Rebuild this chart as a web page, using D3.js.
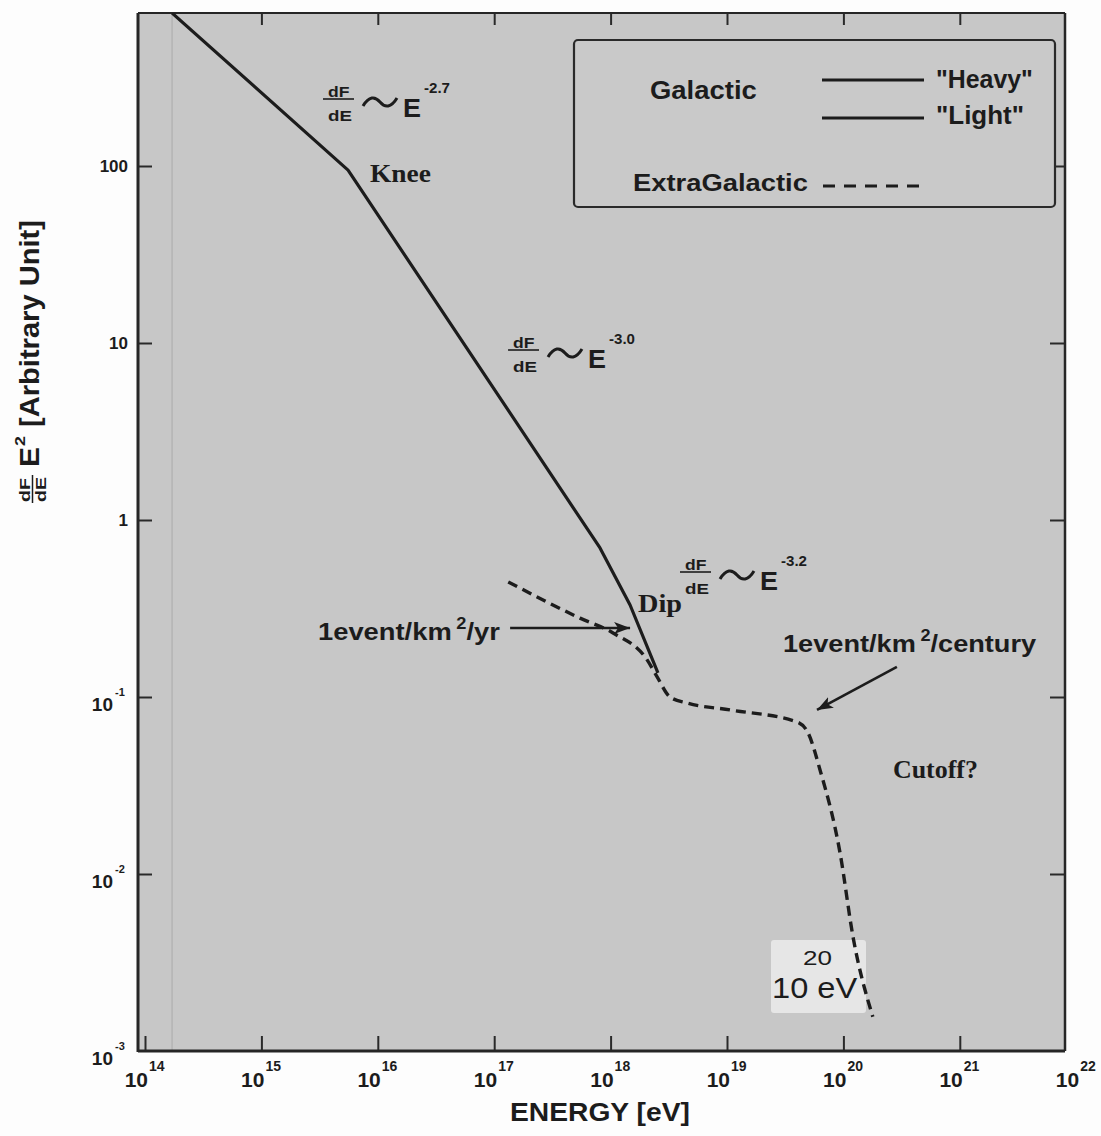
<!DOCTYPE html>
<html>
<head>
<meta charset="utf-8">
<script src="https://cdn.jsdelivr.net/npm/d3@7"></script>
<style>
  body { margin: 0; background: #fff; }
  text { font-family: "Liberation Sans", Arial, sans-serif; font-weight: bold; fill: #1c1c1c; }
  .serif { font-family: "Liberation Serif", "Times New Roman", serif; }
</style>
</head>
<body>
<svg id="chart" width="1101" height="1136"></svg>
<script>
// Cosmic-ray spectrum sketch: E^2 dF/dE (arbitrary units) versus energy (eV)
const galacticEnergy = [1.71e14, 5.55e15, 8.11e17, 1.47e18, 2.55e18];
const galacticFlux   = [731, 94.8, 0.695, 0.331, 0.137];

const extraEnergy = [1.32e17, 5.46e17, 1.05e18, 2.06e18, 2.51e18, 3.24e18, 4.53e18,
                     1.06e19, 3.99e19, 4.97e19, 6.30e19, 9.35e19, 1.21e20, 1.79e20];
const extraFlux   = [0.447, 0.279, 0.230, 0.162, 0.130, 0.100, 0.0925,
                     0.0845, 0.0723, 0.0627, 0.0387, 0.0132, 0.00441, 0.00156];

const energyTicks  = [1e14, 1e15, 1e16, 1e17, 1e18, 1e19, 1e20, 1e21, 1e22];
const energyExps   = ["14", "15", "16", "17", "18", "19", "20", "21", "22"];
const fluxTicks    = [1e2, 1e1, 1e0, 1e-1, 1e-2, 1e-3];
const fluxBase     = ["100", "10", "1", "10", "10", "10"];
const fluxExp      = ["", "", "", "-1", "-2", "-3"];

const slopeExps    = ["-2.7", "-3.0", "-3.2"];
// arrow callouts: [startE, startFlux, endE, endFlux]
const yearArrow    = [1.37e17, 0.2455, 1.47e18, 0.2455];
const centuryArrow = [2.88e20, 0.148, 5.93e19, 0.0845];

const svg = d3.select("#chart");
const X0 = 138, X1 = 1065, Y0 = 13, Y1 = 1051;
const ink = "#1c1c1c";

const x = d3.scaleLog().domain([1e14, 1e22]).range([145, 1076.2]);
const y = d3.scaleLog().domain([1e-3, 1e2]).range([1051, 166]);

// stretch a text element horizontally so it spans [left, left + width]
function fitText(sel, left, width) {
  const bb = sel.node().getBBox();
  const s = width / bb.width;
  sel.attr("transform", `translate(${left - s * bb.x},0) scale(${s},1)`);
  return sel;
}

svg.append("rect").attr("width", 1101).attr("height", 1136).attr("fill", "#fdfdfd");
svg.append("rect").attr("x", X0).attr("y", Y0).attr("width", X1 - X0).attr("height", Y1 - Y0)
  .attr("fill", "#c7c7c7");

svg.append("defs").append("clipPath").attr("id", "plotClip")
  .append("rect").attr("x", X0).attr("y", Y0).attr("width", X1 - X0).attr("height", Y1 - Y0);

svg.select("defs").append("marker")
  .attr("id", "head").attr("markerUnits", "userSpaceOnUse")
  .attr("markerWidth", 18).attr("markerHeight", 12)
  .attr("refX", 16).attr("refY", 6).attr("orient", "auto")
  .append("path").attr("d", "M0,0 L16,6 L0,12 L4,6 Z").attr("fill", ink);

// faint guide at the low-energy start of the galactic curve
svg.append("line")
  .attr("x1", x(galacticEnergy[0])).attr("x2", x(galacticEnergy[0]))
  .attr("y1", Y0).attr("y2", Y1)
  .attr("stroke", "#b4b4b4").attr("stroke-width", 1.5);

// label box for 10^20 eV, sits under the dashed curve
const boxG = svg.append("g");
boxG.append("rect").attr("x", 771).attr("y", 940).attr("width", 95).attr("height", 73)
  .attr("rx", 3).attr("fill", "#e6e6e6");
fitText(boxG.append("text").attr("x", 803).attr("y", 965).attr("font-size", 20)
  .style("font-weight", "normal").text("20"), 803, 29);
fitText(boxG.append("text").attr("x", 772).attr("y", 998).attr("font-size", 29)
  .style("font-weight", "normal").text("10 eV"), 772, 86);

// axes: inward ticks on all four sides
const tickLine = g => g.call(s => s.select(".domain").remove())
  .selectAll("line").attr("stroke", "#2a2a2a").attr("stroke-width", 2);
const innerE = energyTicks.filter(v => x(v) < X1);

svg.append("g").attr("transform", `translate(0,${Y1})`)
  .call(d3.axisBottom(x).tickValues(innerE).tickSize(-15).tickFormat(() => "")).call(tickLine);
svg.append("g").attr("transform", `translate(0,${Y0})`)
  .call(d3.axisTop(x).tickValues(innerE.slice(1)).tickSize(-12).tickFormat(() => "")).call(tickLine);
svg.append("g").attr("transform", `translate(${X0},0)`)
  .call(d3.axisLeft(y).tickValues(fluxTicks.slice(0, 5)).tickSize(-14).tickFormat(() => "")).call(tickLine);
svg.append("g").attr("transform", `translate(${X1},0)`)
  .call(d3.axisRight(y).tickValues(fluxTicks.slice(0, 5)).tickSize(-15).tickFormat(() => "")).call(tickLine);

// frame
const frame = svg.append("g").attr("stroke", "#262626");
frame.append("line").attr("x1", X0).attr("x2", X0).attr("y1", Y0).attr("y2", Y1 + 1).attr("stroke-width", 3);
frame.append("line").attr("x1", X0).attr("x2", X1).attr("y1", Y1).attr("y2", Y1).attr("stroke-width", 3);
frame.append("line").attr("x1", X0).attr("x2", X1).attr("y1", Y0).attr("y2", Y0).attr("stroke-width", 2);
frame.append("line").attr("x1", X1).attr("x2", X1).attr("y1", Y0).attr("y2", Y1).attr("stroke-width", 2.5);

// energy tick labels
const xl = svg.append("g");
energyTicks.forEach((v, i) => {
  const tx = x(v);
  xl.append("text").attr("x", tx + 3).attr("y", 1087).attr("text-anchor", "end")
    .attr("font-size", 21).text("10");
  xl.append("text").attr("x", tx + 4).attr("y", 1071).attr("font-size", 14).text(energyExps[i]);
});

// flux tick labels
const yl = svg.append("g");
fluxTicks.forEach((v, i) => {
  const ty = y(v);
  if (fluxExp[i] === "") {
    yl.append("text").attr("x", 128).attr("y", ty + 6).attr("text-anchor", "end")
      .attr("font-size", 17).text(fluxBase[i]);
  } else {
    yl.append("text").attr("x", 113).attr("y", ty + 14).attr("text-anchor", "end")
      .attr("font-size", 19).text(fluxBase[i]);
    yl.append("text").attr("x", 115).attr("y", ty - 1).attr("font-size", 11).text(fluxExp[i]);
  }
});

// axis titles
fitText(svg.append("text").attr("x", 510).attr("y", 1121).attr("font-size", 25).text("ENERGY [eV]"), 510, 180);

const yt = svg.append("g").attr("transform", "translate(39,362) rotate(-90)");
fitText(yt.append("text").attr("x", -141).attr("y", -9).attr("font-size", 15).text("dF"), -140, 24);
yt.append("line").attr("x1", -141).attr("x2", -113).attr("y1", -6.5).attr("y2", -6.5)
  .attr("stroke", ink).attr("stroke-width", 1.5);
fitText(yt.append("text").attr("x", -141).attr("y", 7).attr("font-size", 15).text("dE"), -140, 25);
fitText(yt.append("text").attr("x", -105).attr("y", 0).attr("font-size", 28).text("E"), -105, 20);
fitText(yt.append("text").attr("x", -84).attr("y", -14).attr("font-size", 15).text("2"), -84, 10);
fitText(yt.append("text").attr("x", -65).attr("y", 0).attr("font-size", 28).text("[Arbitrary Unit]"), -65, 207);

// curves
const line = d3.line().x(d => x(d[0])).y(d => y(d[1]));
const curves = svg.append("g").attr("clip-path", "url(#plotClip)");
curves.append("path")
  .attr("d", line.curve(d3.curveLinear)(d3.zip(galacticEnergy, galacticFlux)))
  .attr("fill", "none").attr("stroke", ink).attr("stroke-width", 3.2).attr("stroke-linejoin", "round");
curves.append("path")
  .attr("d", line.curve(d3.curveMonotoneX)(d3.zip(extraEnergy, extraFlux)))
  .attr("fill", "none").attr("stroke", ink).attr("stroke-width", 3.4)
  .attr("stroke-dasharray", "10,6");

// power-law annotations: dF/dE ~ E^n
function slopeNote(x0, bar, exp) {
  const g = svg.append("g");
  fitText(g.append("text").attr("x", x0).attr("y", bar - 2).attr("font-size", 14).text("dF"), x0 + 5, 22);
  g.append("line").attr("x1", x0).attr("x2", x0 + 31).attr("y1", bar).attr("y2", bar)
    .attr("stroke", ink).attr("stroke-width", 1.6);
  fitText(g.append("text").attr("x", x0).attr("y", bar + 22).attr("font-size", 15).text("dE"), x0 + 5, 24);
  g.append("path")
    .attr("d", `M${x0 + 40},${bar + 7} C${x0 + 46},${bar - 3} ${x0 + 52},${bar - 3} ${x0 + 57},${bar + 3} S${x0 + 68},${bar + 9} ${x0 + 74},${bar - 1}`)
    .attr("fill", "none").attr("stroke", ink).attr("stroke-width", 3);
  fitText(g.append("text").attr("x", x0 + 79).attr("y", bar + 18).attr("font-size", 25).text("E"), x0 + 80, 18);
  fitText(g.append("text").attr("x", x0 + 100).attr("y", bar - 6).attr("font-size", 15).text(exp), x0 + 101, 26);
}
slopeNote(323, 99, slopeExps[0]);
slopeNote(508, 350, slopeExps[1]);
slopeNote(680, 572, slopeExps[2]);

fitText(svg.append("text").attr("class", "serif").attr("x", 370).attr("y", 182).attr("font-size", 26).text("Knee"), 370, 61);
fitText(svg.append("text").attr("class", "serif").attr("x", 638).attr("y", 612).attr("font-size", 26).text("Dip"), 638, 44);
fitText(svg.append("text").attr("class", "serif").attr("x", 893).attr("y", 778).attr("font-size", 26).text("Cutoff?"), 893, 85);

// event-rate callouts
function rateLabel(left, base, width, unit) {
  const t = svg.append("text").attr("x", left).attr("y", base).attr("font-size", 24);
  t.append("tspan").text("1event/km");
  t.append("tspan").attr("dx", 4).attr("dy", -11).attr("font-size", 16).text("2");
  t.append("tspan").attr("dy", 11).text("/" + unit);
  fitText(t, left, width);
}
rateLabel(318, 640, 182, "yr");
rateLabel(783, 652, 254, "century");

[yearArrow, centuryArrow].forEach(a => {
  svg.append("line")
    .attr("x1", x(a[0])).attr("y1", y(a[1])).attr("x2", x(a[2])).attr("y2", y(a[3]))
    .attr("stroke", ink).attr("stroke-width", 2.6).attr("marker-end", "url(#head)");
});

// legend
const lg = svg.append("g");
lg.append("rect").attr("x", 574).attr("y", 40).attr("width", 481).attr("height", 167).attr("rx", 4)
  .attr("fill", "#c9c9c9").attr("stroke", "#2a2a2a").attr("stroke-width", 2.2);
fitText(lg.append("text").attr("x", 650).attr("y", 99).attr("font-size", 25).text("Galactic"), 650, 107);
lg.append("line").attr("x1", 822).attr("x2", 924).attr("y1", 80).attr("y2", 80).attr("stroke", ink).attr("stroke-width", 3.2);
lg.append("line").attr("x1", 822).attr("x2", 924).attr("y1", 118).attr("y2", 118).attr("stroke", ink).attr("stroke-width", 3.2);
fitText(lg.append("text").attr("x", 936).attr("y", 88).attr("font-size", 25).text("\"Heavy\""), 936, 97);
fitText(lg.append("text").attr("x", 936).attr("y", 124).attr("font-size", 25).text("\"Light\""), 936, 88);
fitText(lg.append("text").attr("x", 633).attr("y", 191).attr("font-size", 24).text("ExtraGalactic"), 633, 175);
lg.append("line").attr("x1", 823).attr("x2", 919).attr("y1", 186).attr("y2", 186)
  .attr("stroke", ink).attr("stroke-width", 3).attr("stroke-dasharray", "12,9");
</script>
</body>
</html>
